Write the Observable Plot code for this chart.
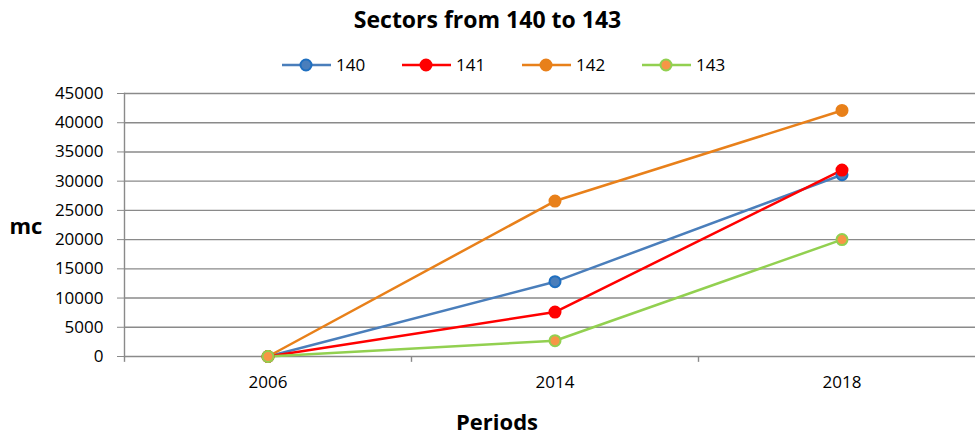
<!DOCTYPE html>
<html>
<head>
<meta charset="utf-8">
<script src="https://cdn.jsdelivr.net/npm/d3@7"></script>
<script src="https://cdn.jsdelivr.net/npm/@observablehq/plot@0.6"></script>
<style>
  body { margin: 0; background: #fff; }
  #wrap { position: relative; width: 975px; height: 442px; overflow: hidden; font-family: "Open Sans", sans-serif; }
  #title { position: absolute; top: 4px; left: 0; width: 975px; text-align: center; font-weight: bold; font-size: 23px; line-height: 30px; color: #000; }
  .leg { position: absolute; top: 55px; height: 20px; font-size: 17px; color: #000; }
  .leg svg { position: absolute; left: 0; top: 0; }
  .leg span { position: absolute; top: 0px; line-height: 20px; }
  #chart { position: absolute; top: 80px; left: 0; }
</style>
</head>
<body>
<div id="wrap">
  <div id="title">Sectors from 140 to 143</div>
  <div id="legend"></div>
  <div id="chart"></div>
</div>
<script>
const periods = ["2006", "2014", "2018"];
const seriesNames = ["140", "141", "142", "143"];
const s140 = [0, 12800, 31100];
const s141 = [0, 7600, 31900];
const s142 = [0, 26600, 42100];
const s143 = [0, 2700, 20000];
const yTicks = [0, 5000, 10000, 15000, 20000, 25000, 30000, 35000, 40000, 45000];

const lineColors = {"140": "#4a7ebb", "141": "#ff0000", "142": "#e8801a", "143": "#92d050"};
const markFill = {"140": "#4a7ebb", "141": "#ff0000", "142": "#e8801a", "143": "#f79646"};
const markStroke = {"140": "#1f6fc0", "141": "#ff0000", "142": "#e8801a", "143": "#92d050"};

const allSeries = [s140, s141, s142, s143];
const data = [];
seriesNames.forEach((name, i) => {
  periods.forEach((p, j) => data.push({series: name, period: p, value: allSeries[i][j]}));
});

// Legend
const legend = document.getElementById("legend");
seriesNames.forEach((name, i) => {
  const d = document.createElement("div");
  d.className = "leg";
  d.style.left = (281 + 120 * i) + "px";
  d.style.width = "100px";
  d.innerHTML = `<svg width="52" height="20"><line x1="1" x2="50" y1="10" y2="10" stroke="${lineColors[name]}" stroke-width="2.5"/><circle cx="25" cy="10" r="5.5" fill="${markFill[name]}" stroke="${markStroke[name]}" stroke-width="2"/></svg><span style="left:55px">${name}</span>`;
  legend.appendChild(d);
});

const bw = (985 - 124) / 3;

const plot = Plot.plot({
  width: 975,
  height: 362,
  marginTop: 13,
  marginBottom: 86,
  marginLeft: 124,
  marginRight: 0,
  style: {fontFamily: "Open Sans, sans-serif", fontSize: "17px", color: "#000", background: "transparent", overflow: "visible"},
  x: {type: "band", domain: periods, range: [124, 985], padding: 0, label: null},
  y: {domain: [0, 45000], label: null},
  marks: [
    Plot.ruleY(yTicks, {stroke: "#8a8a8a", strokeWidth: 1.4}),
    Plot.axisY({ticks: yTicks, tickSize: 7, tickPadding: 14, stroke: "#8a8a8a", fill: "#000", label: null, tickFormat: d => String(d)}),
    Plot.axisX({tickSize: 0, tickPadding: 19, label: null, fill: "#000"}),
    Plot.ruleX(periods, {x: d => d, dx: -bw / 2, y1: 0, y2: -1000, stroke: "#8a8a8a", strokeWidth: 1.4}),
    Plot.frame({anchor: "left", stroke: "#8a8a8a", strokeWidth: 1.4}),
    ...seriesNames.map(name => Plot.line(data.filter(d => d.series === name), {x: "period", y: "value", stroke: lineColors[name], strokeWidth: 2.5})),
    ...seriesNames.map(name => Plot.dot(data.filter(d => d.series === name), {x: "period", y: "value", r: 5.5, fill: markFill[name], stroke: markStroke[name], strokeWidth: 2})),
    Plot.text(["mc"], {frameAnchor: "left", dx: -115, dy: 2, textAnchor: "start", fontWeight: "bold", fontSize: 22, fill: "#000"}),
    Plot.text(["Periods"], {frameAnchor: "bottom", dy: 73, dx: -53, fontWeight: "bold", fontSize: 22, fill: "#000"})
  ]
});
document.getElementById("chart").appendChild(plot);
</script>
</body>
</html>
